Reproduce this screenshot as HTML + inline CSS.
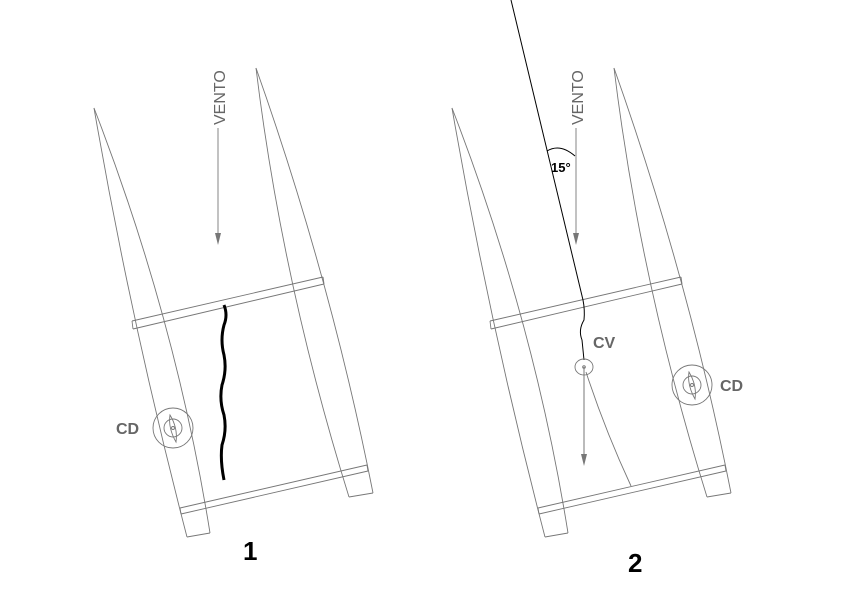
<!DOCTYPE html>
<html><head><meta charset="utf-8"><style>
html,body{margin:0;padding:0;background:#fff}
svg{display:block}
text{font-family:"Liberation Sans",sans-serif}
</style></head><body>
<svg width="842" height="595" viewBox="0 0 842 595" xmlns="http://www.w3.org/2000/svg">
<defs>
<g id="cat" fill="none" stroke="#777" stroke-width="0.9">
  <!-- left hull -->
  <path d="M94,108 Q131,322 187,537"/>
  <path d="M94,108 Q176,320 210,533"/>
  <line x1="187" y1="537" x2="210" y2="533"/>
  <!-- right hull -->
  <path d="M256,68 Q331,280 373,493"/>
  <path d="M256,68 Q282,282 349,497"/>
  <line x1="349" y1="497" x2="373" y2="493"/>
  <!-- front beam -->
  <line x1="132" y1="321" x2="323" y2="277"/>
  <line x1="133" y1="329" x2="324" y2="284"/>
  <line x1="132" y1="321" x2="133" y2="329"/>
  <line x1="323" y1="277" x2="324" y2="284"/>
  <!-- rear beam -->
  <line x1="180" y1="508" x2="367" y2="465"/>
  <line x1="181" y1="514" x2="368" y2="471"/>
  <line x1="180" y1="508" x2="181" y2="514"/>
  <line x1="367" y1="465" x2="368" y2="471"/>
  <!-- wind arrow -->
  <line x1="218" y1="128" x2="218" y2="240"/>
</g>
<g id="arrowhead"><path d="M-3,-12 L3,-12 L0,0 Z" fill="#777"/></g>
<g id="cd" fill="none" stroke="#777" stroke-width="0.9">
  <circle cx="0" cy="0" r="20"/>
  <circle cx="0" cy="0" r="9"/>
  <path d="M-3,-13 Q-5,0 3,14 Q5,0 -3,-13 Z"/>
  <circle cx="0" cy="0" r="1.5"/>
</g>
</defs>

<!-- Diagram 1 -->
<use href="#cat"/>
<use href="#arrowhead" transform="translate(218,245)"/>
<text transform="translate(225,125) rotate(-90)" font-size="16" fill="#666">VENTO</text>
<path d="M224,305 Q228,315 224,325 Q220,340 224,355 Q227,370 222,385 Q219,400 224,415 Q227,430 222,445 Q220,460 224,480" fill="none" stroke="#000" stroke-width="3"/>
<use href="#cd" transform="translate(173,428)"/>
<text x="116" y="434" font-size="16" font-weight="bold" fill="#666">CD</text>
<text x="243" y="560" font-size="26" font-weight="bold" fill="#000">1</text>

<!-- Diagram 2 -->
<g transform="translate(358,0)">
<use href="#cat"/>
<use href="#arrowhead" transform="translate(218,245)"/>
<text transform="translate(225,125) rotate(-90)" font-size="16" fill="#666">VENTO</text>
</g>
<line x1="511" y1="0" x2="583" y2="300" stroke="#000" stroke-width="1"/>
<path d="M583,300 Q585,310 584,320 Q578,330 582,340 L584,360" fill="none" stroke="#000" stroke-width="1"/>
<path d="M547,151 Q560,143 575,156" fill="none" stroke="#000" stroke-width="1"/>
<text x="551" y="172" font-size="13" font-weight="bold" fill="#000">15°</text>
<ellipse cx="584" cy="367" rx="9" ry="8" fill="none" stroke="#777" stroke-width="0.9"/>
<circle cx="584" cy="367" r="1.3" fill="none" stroke="#777"/>
<line x1="584" y1="367" x2="584" y2="455" stroke="#777" stroke-width="1"/>
<use href="#arrowhead" transform="translate(584,466)"/>
<path d="M586,372 Q605,430 631,486" fill="none" stroke="#777" stroke-width="0.9"/>
<text x="593" y="348" font-size="16" font-weight="bold" fill="#666">CV</text>
<use href="#cd" transform="translate(692,385)"/>
<text x="720" y="391" font-size="16" font-weight="bold" fill="#666">CD</text>
<text x="628" y="572" font-size="26" font-weight="bold" fill="#000">2</text>
</svg>
</body></html>
